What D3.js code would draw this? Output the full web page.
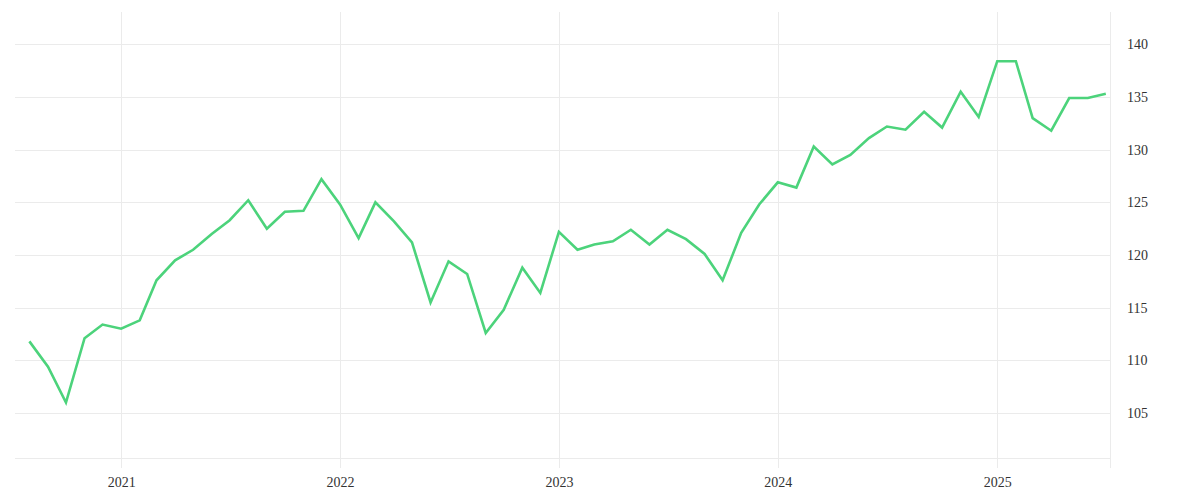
<!DOCTYPE html>
<html>
<head>
<meta charset="utf-8">
<script src="https://cdn.jsdelivr.net/npm/d3@7"></script>
<style>
  body { margin: 0; background: #fff; }
  #plot-canvas { width: 1200px; height: 500px; }
  .grid line { stroke: #ebebeb; stroke-width: 1; }
  .axis text { font-family: "Liberation Serif", "DejaVu Serif", serif; font-size: 14px; fill: #333; }
</style>
</head>
<body>
<div id="plot-canvas"></div>
<script>
// monthly values, Aug 2020 .. Jul 2025
const startMonth = new Date(2020, 7, 1);
const values = [
  111.8, 109.4, 106.0, 112.1, 113.4,
  113.0, 113.8, 117.6, 119.5, 120.5, 122.0, 123.3, 125.2, 122.5, 124.1, 124.2, 127.2,
  124.8, 121.6, 125.0, 123.2, 121.2, 115.5, 119.4, 118.2, 112.6, 114.8, 118.8, 116.4,
  122.2, 120.5, 121.0, 121.3, 122.4, 121.0, 122.4, 121.5, 120.1, 117.6, 122.1, 124.8,
  126.9, 126.4, 130.3, 128.6, 129.5, 131.1, 132.2, 131.9, 133.6, 132.1, 135.5, 133.1,
  138.4, 138.4, 133.0, 131.8, 134.9, 134.9, 135.3
];
const yearTicks = [2021, 2022, 2023, 2024, 2025];
const valueTicks = [105, 110, 115, 120, 125, 130, 135, 140];

const dates = values.map((v, i) => new Date(startMonth.getFullYear(), startMonth.getMonth() + i, 1));
const data = values.map((v, i) => ({date: dates[i], value: v}));

const width = 1200, height = 500;
const plot = {left: 15, right: 1110, top: 12, bottom: 458};

const x = d3.scaleTime()
    .domain([new Date(2020, 6, 8), new Date(2025, 6, 8)])
    .range([plot.left, plot.right]);
const y = d3.scaleLinear()
    .domain([100.73, 143.07])
    .range([plot.bottom, plot.top]);

const svg = d3.select("#plot-canvas").append("svg")
    .attr("width", width)
    .attr("height", height);

// horizontal grid
svg.append("g")
    .attr("class", "grid")
    .selectAll("line")
    .data(valueTicks)
    .enter().append("line")
    .attr("x1", plot.left)
    .attr("x2", plot.right)
    .attr("y1", d => Math.round(y(d)) + 0.5)
    .attr("y2", d => Math.round(y(d)) + 0.5);

// bottom baseline
svg.append("g")
    .attr("class", "grid")
    .append("line")
    .attr("x1", plot.left)
    .attr("x2", plot.right)
    .attr("y1", plot.bottom + 0.5)
    .attr("y2", plot.bottom + 0.5);

// vertical grid (year lines + right edge)
const vLines = yearTicks.map(yr => x(new Date(yr, 0, 1))).concat([plot.right]);
svg.append("g")
    .attr("class", "grid")
    .selectAll("line")
    .data(vLines)
    .enter().append("line")
    .attr("x1", d => Math.round(d) + 0.5)
    .attr("x2", d => Math.round(d) + 0.5)
    .attr("y1", plot.top)
    .attr("y2", plot.bottom + 10);

//Draw x-axis labels
const xAxis = d3.axisBottom(x)
    .tickValues(yearTicks.map(yr => new Date(yr, 0, 1)))
    .tickFormat(d3.timeFormat("%Y"))
    .tickSize(0)
    .tickPadding(19);
svg.append("g")
    .attr("class", "axis")
    .attr("transform", "translate(0," + plot.bottom + ")")
    .call(xAxis)
    .call(g => g.select(".domain").remove());

//Draw y-axis labels on the right
const yAxis = d3.axisRight(y)
    .tickValues(valueTicks)
    .tickSize(0)
    .tickPadding(17);
svg.append("g")
    .attr("class", "axis")
    .attr("transform", "translate(" + plot.right + ",0)")
    .call(yAxis)
    .call(g => g.select(".domain").remove());

// series line
const line = d3.line()
    .x(d => x(d.date))
    .y(d => y(d.value));

svg.append("path")
    .datum(data)
    .attr("fill", "none")
    .attr("stroke", "#4cd37b")
    .attr("stroke-width", 2.6)
    .attr("stroke-linejoin", "miter")
    .attr("d", line);
</script>
</body>
</html>
